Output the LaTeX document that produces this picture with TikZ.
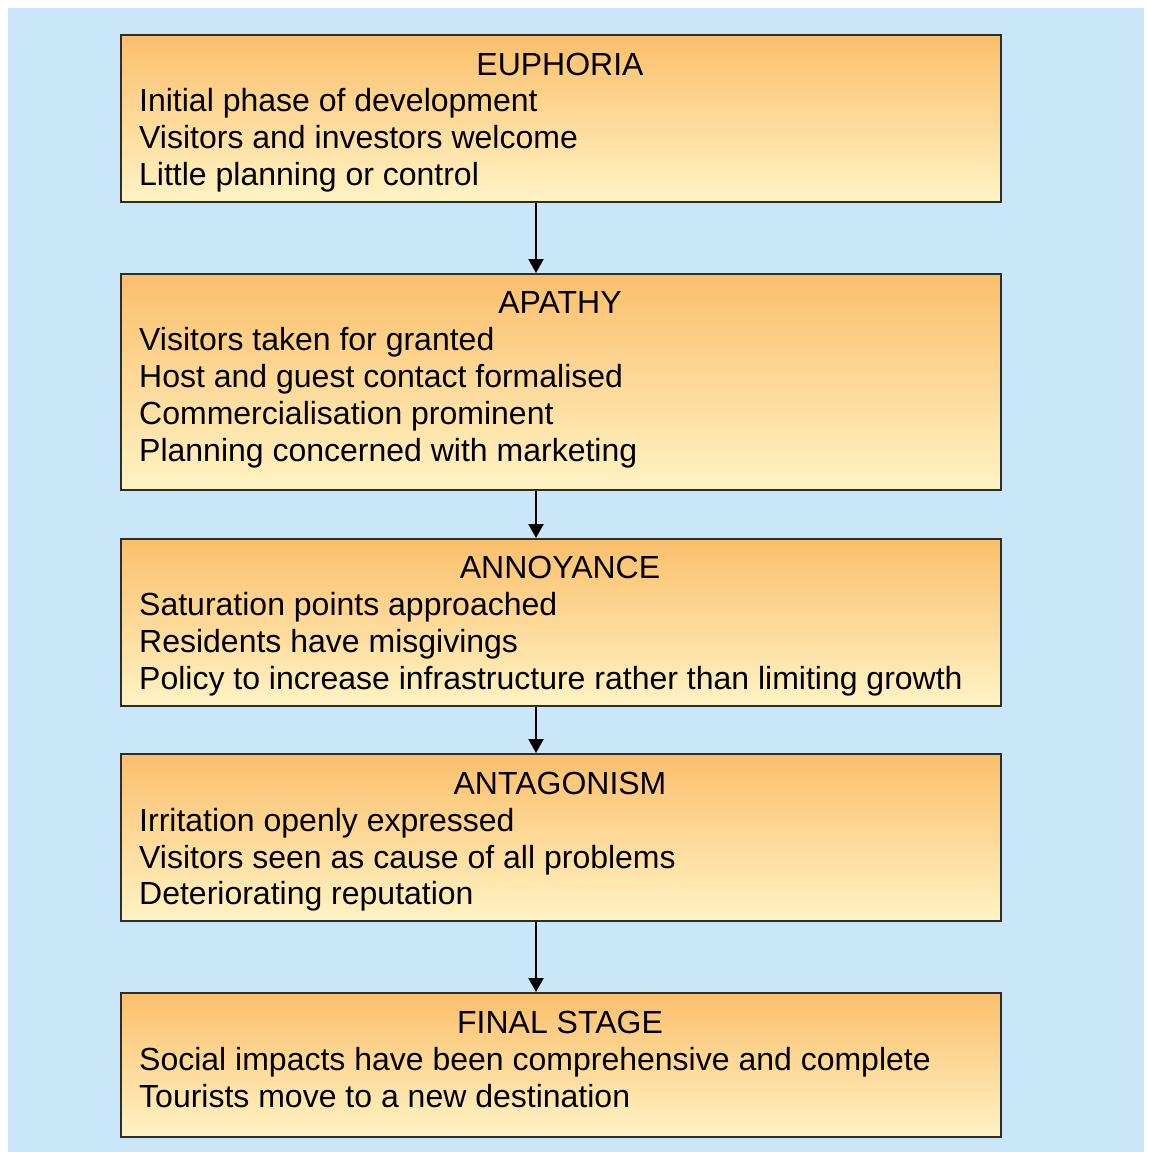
\documentclass[tikz,border=0pt]{standalone}
\usepackage{fontspec}
\setmainfont{Liberation Sans}
\usetikzlibrary{arrows.meta}
\definecolor{skyback}{RGB}{201,231,249}
\definecolor{stagetop}{RGB}{251,191,108}
\definecolor{stagemid}{RGB}{253,217,145}
\definecolor{stagebot}{RGB}{255,243,196}
\definecolor{edgegray}{RGB}{45,45,45}
\tikzset{
  stagebox/.style={draw=edgegray, line width=1.6pt, inner sep=0pt, anchor=north west,
    minimum width=880pt, top color=stagetop, middle color=stagemid, bottom color=stagebot},
  stagetitle/.style={anchor=base, inner sep=0pt, font=\fontsize{32}{37}\selectfont},
  stageline/.style={anchor=base west, inner sep=0pt, font=\fontsize{32}{37}\selectfont},
  flow/.style={line width=2pt, -{Triangle[width=15pt,length=14pt]}}
}
\begin{document}
\begin{tikzpicture}[x=1pt, y=-1pt]
\useasboundingbox (0,0) rectangle (1149,1152);
% page backdrop
\fill[white] (0,0) rectangle (1149,1152);
\fill[skyback] (8,8) rectangle (1144,1152);

% stage boxes
\node[stagebox, minimum height=167pt] (b1) at (120,34) {};
\node[stagebox, minimum height=216pt] (b2) at (120,273) {};
\node[stagebox, minimum height=167pt] (b3) at (120,538) {};
\node[stagebox, minimum height=167pt] (b4) at (120,753) {};
\node[stagebox, minimum height=144pt] (b5) at (120,992) {};

% stage 1
\node[stagetitle] (t1) at (560,75) {EUPHORIA};
\node[stageline] (l11) at (139,111) {Initial phase of development};
\node[stageline] (l12) at (139,148) {Visitors and investors welcome};
\node[stageline] (l13) at (139,185) {Little planning or control};

% stage 2
\node[stagetitle] (t2) at (560,313) {APATHY};
\node[stageline] (l21) at (139,350) {Visitors taken for granted};
\node[stageline] (l22) at (139,387) {Host and guest contact formalised};
\node[stageline] (l23) at (139,424) {Commercialisation prominent};
\node[stageline] (l24) at (139,461) {Planning concerned with marketing};

% stage 3
\node[stagetitle] (t3) at (560,578) {ANNOYANCE};
\node[stageline] (l31) at (139,615) {Saturation points approached};
\node[stageline] (l32) at (139,652) {Residents have misgivings};
\node[stageline] (l33) at (139,689) {Policy to increase infrastructure rather than limiting growth};

% stage 4
\node[stagetitle] (t4) at (560,794) {ANTAGONISM};
\node[stageline] (l41) at (139,831) {Irritation openly expressed};
\node[stageline] (l42) at (139,868) {Visitors seen as cause of all problems};
\node[stageline] (l43) at (139,904) {Deteriorating reputation};

% stage 5
\node[stagetitle] (t5) at (560,1033) {FINAL STAGE};
\node[stageline] (l51) at (139,1070) {Social impacts have been comprehensive and complete};
\node[stageline] (l52) at (139,1107) {Tourists move to a new destination};

% connectors between stages
\coordinate (axis) at (536,0);
\draw[flow] (b1.south -| axis) -- (b2.north -| axis);
\draw[flow] (b2.south -| axis) -- (b3.north -| axis);
\draw[flow] (b3.south -| axis) -- (b4.north -| axis);
\draw[flow] (b4.south -| axis) -- (b5.north -| axis);
\end{tikzpicture}
\end{document}
